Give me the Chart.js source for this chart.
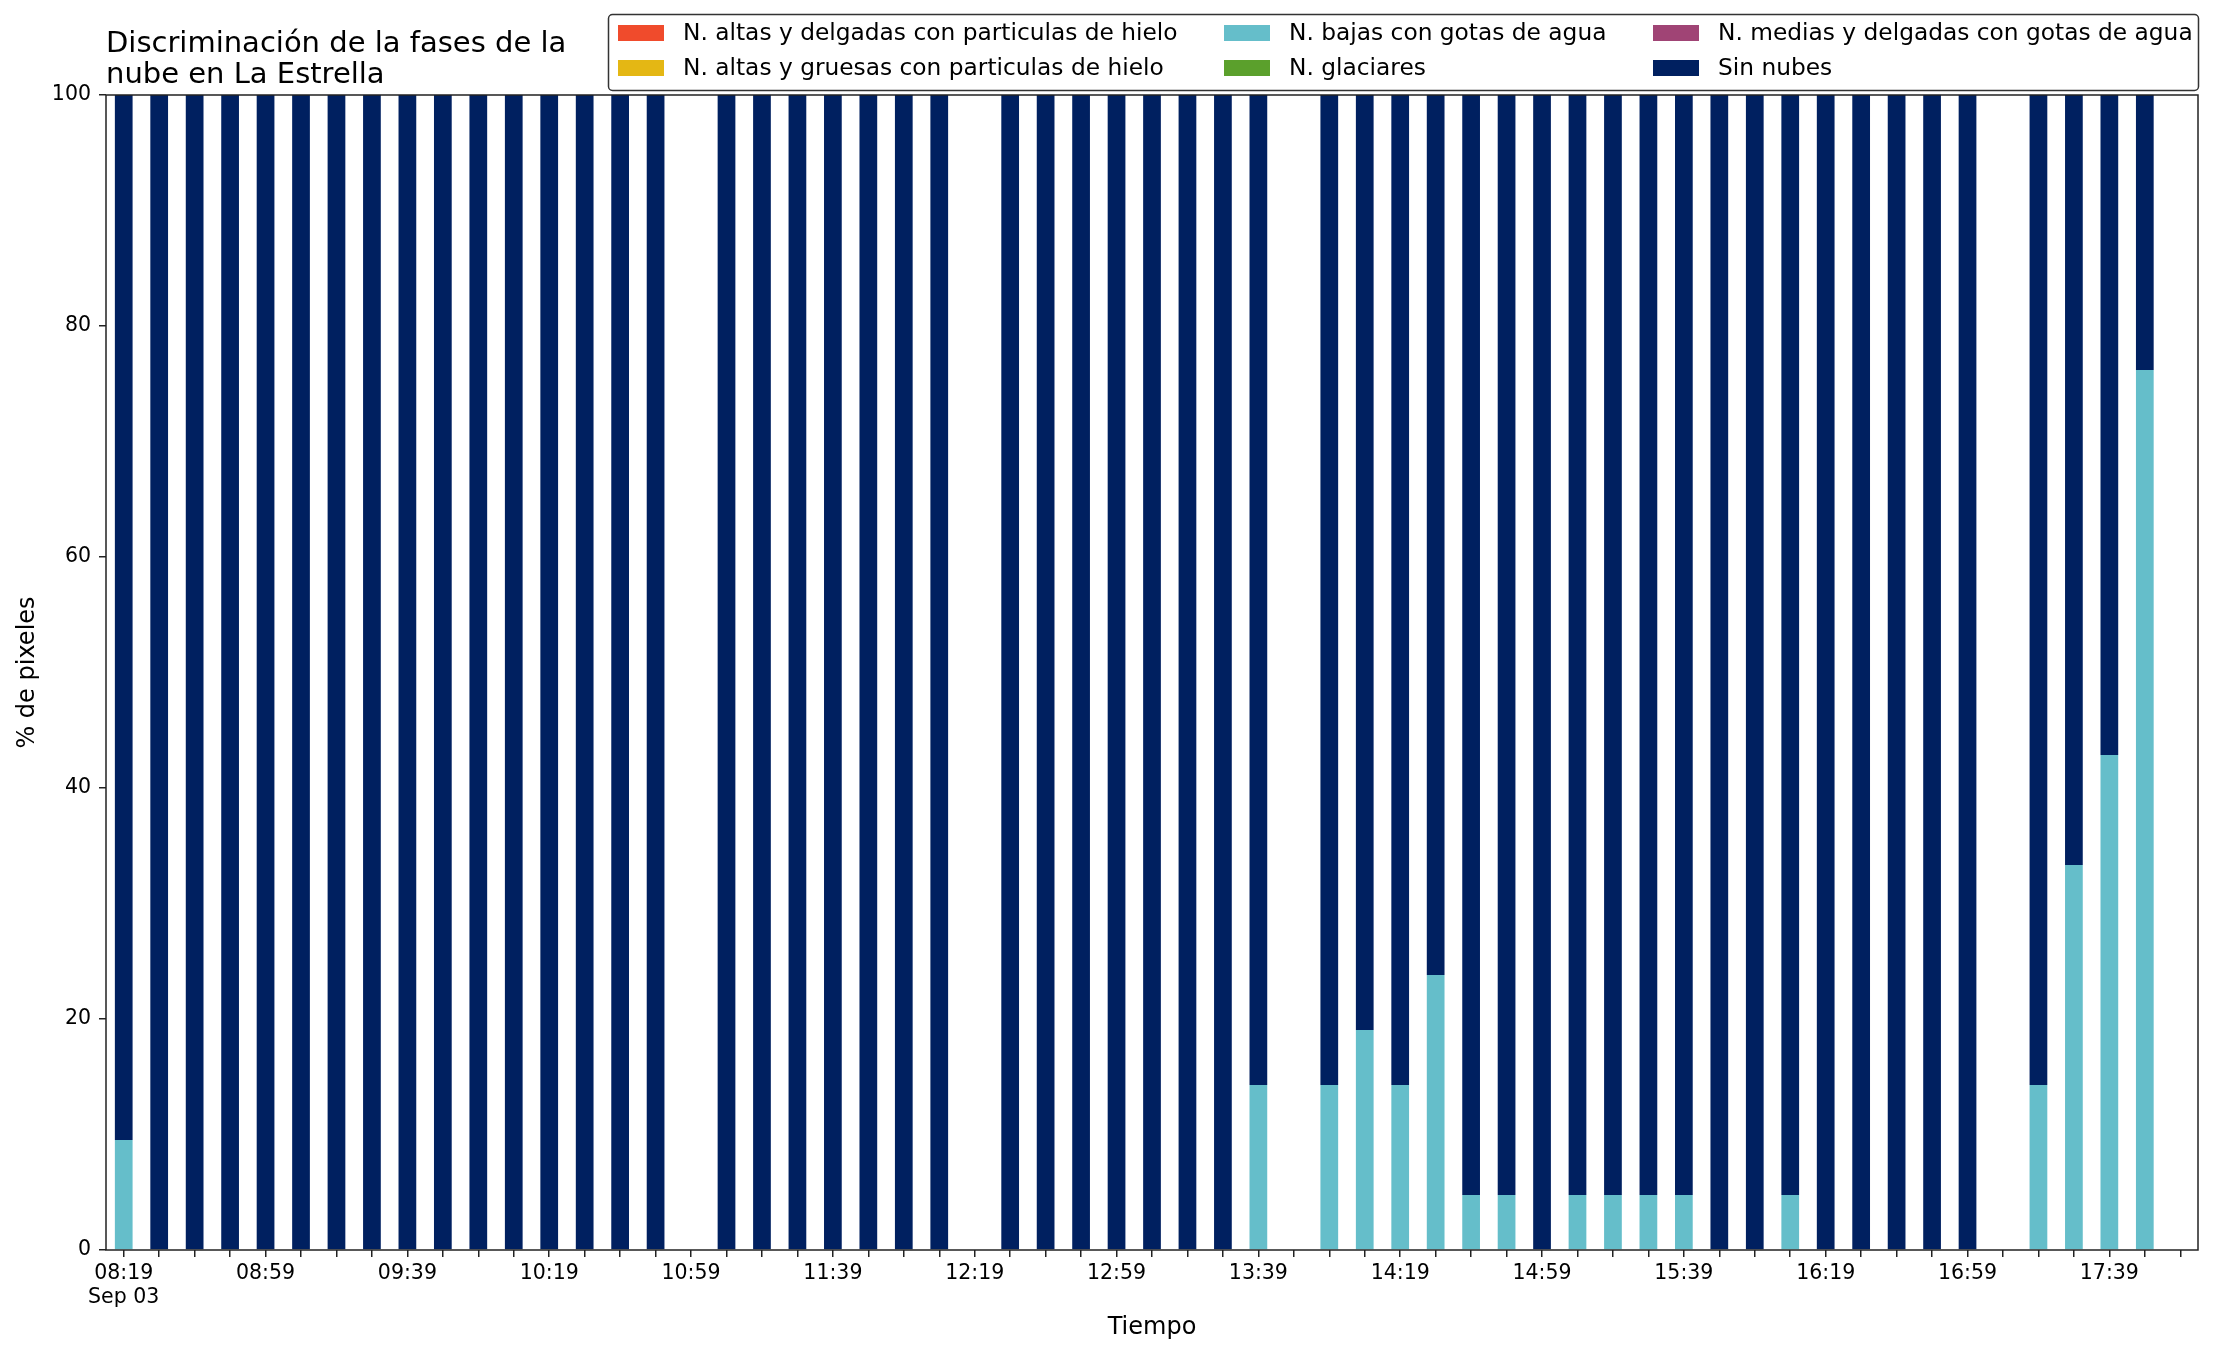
<!DOCTYPE html>
<html>
<head>
<meta charset="utf-8">
<script src="https://cdn.jsdelivr.net/npm/chart.js@4"></script>
<style>
  html, body { margin: 0; padding: 0; background: #fff; overflow: hidden; }
  canvas { display: block; }
</style>
</head>
<body>
<canvas id="fases" width="2216" height="1355" style="width:2216px;height:1355px"></canvas>
<script>
// horas de cada imagen (03 sep)
var horas = ['08:19','08:29','08:39','08:49','08:59','09:09','09:19','09:29','09:39','09:49',
             '09:59','10:09','10:19','10:29','10:39','10:49','10:59','11:09','11:19','11:29',
             '11:39','11:49','11:59','12:09','12:19','12:29','12:39','12:49','12:59','13:09',
             '13:19','13:29','13:39','13:49','13:59','14:09','14:19','14:29','14:39','14:49',
             '14:59','15:09','15:19','15:29','15:39','15:49','15:59','16:09','16:19','16:29',
             '16:39','16:49','16:59','17:09','17:19','17:29','17:39','17:49','17:59'];

// % de pixeles, null = sin imagen
var bajasAgua = [9.52, 0, 0, 0, 0, 0, 0, 0, 0, 0,
                 0, 0, 0, 0, 0, 0, null, 0, 0, 0,
                 0, 0, 0, 0, null, 0, 0, 0, 0, 0,
                 0, 0, 14.29, null, 14.29, 19.05, 14.29, 23.81, 4.76, 4.76,
                 0, 4.76, 4.76, 4.76, 4.76, 0, 0, 4.76, 0, 0,
                 0, 0, 0, null, 14.29, 33.33, 42.86, 76.19, null];

var sinNubes = [90.48, 100, 100, 100, 100, 100, 100, 100, 100, 100,
                100, 100, 100, 100, 100, 100, null, 100, 100, 100,
                100, 100, 100, 100, null, 100, 100, 100, 100, 100,
                100, 100, 85.71, null, 85.71, 80.95, 85.71, 76.19, 95.24, 95.24,
                100, 95.24, 95.24, 95.24, 95.24, 100, 100, 95.24, 100, 100,
                100, 100, 100, null, 85.71, 66.67, 57.14, 23.81, null];

// las demas fases no aparecen en ninguna imagen
var sinPresencia = [0, 0, 0, 0, 0, 0, 0, 0, 0, 0,
                    0, 0, 0, 0, 0, 0, null, 0, 0, 0,
                    0, 0, 0, 0, null, 0, 0, 0, 0, 0,
                    0, 0, 0, null, 0, 0, 0, 0, 0, 0,
                    0, 0, 0, 0, 0, 0, 0, 0, 0, 0,
                    0, 0, 0, null, 0, 0, 0, 0, null];

var fuente = '"DejaVu Sans"';
Chart.defaults.font.family = fuente;
Chart.defaults.color = '#000';

// titulo y leyenda a mano (leyenda en columnas como matplotlib)
var adornos = {
    id: 'adornos',
    afterDraw: function(chart) {
        var ctx = chart.ctx, a = chart.chartArea;
        ctx.save();
        // marco de los ejes
        ctx.strokeStyle = '#222';
        ctx.lineWidth = 1.5;
        ctx.strokeRect(a.left, a.top, a.right - a.left, a.bottom - a.top);

        ctx.fillStyle = '#000';
        ctx.font = '29px ' + fuente;
        ctx.textAlign = 'left';
        ctx.textBaseline = 'alphabetic';
        ctx.fillText('Discriminación de la fases de la', 106, 52);
        ctx.fillText('nube en La Estrella', 106, 83);

        // caja de la leyenda
        ctx.beginPath();
        ctx.roundRect(608.5, 14.5, 1590, 76, 4);
        ctx.fillStyle = '#fff';
        ctx.fill();
        ctx.strokeStyle = '#333';
        ctx.lineWidth = 1.5;
        ctx.stroke();

        var colX = [618, 1224, 1653], filaY = [33, 68];
        ctx.font = '23.3px ' + fuente;
        ctx.textBaseline = 'middle';
        chart.data.datasets.forEach(function(ds, i) {
            var x = colX[Math.floor(i / 2)], y = filaY[i % 2];
            ctx.fillStyle = ds.backgroundColor;
            ctx.fillRect(x, y - 8, 46, 16);
            ctx.fillStyle = '#000';
            ctx.fillText(ds.label, x + 65, y + 1);
        });
        ctx.restore();
    }
};

new Chart(document.getElementById('fases'), {
    type: 'bar',
    data: {
        labels: horas,
        datasets: [
            { label: 'N. altas y delgadas con particulas de hielo', data: sinPresencia, backgroundColor: '#F04B2C' },
            { label: 'N. altas y gruesas con particulas de hielo', data: sinPresencia, backgroundColor: '#E4B714' },
            { label: 'N. bajas con gotas de agua', data: bajasAgua, backgroundColor: '#65BECA' },
            { label: 'N. glaciares', data: sinPresencia, backgroundColor: '#5BA02C' },
            { label: 'N. medias y delgadas con gotas de agua', data: sinPresencia, backgroundColor: '#A04475' },
            { label: 'Sin nubes', data: sinNubes, backgroundColor: '#002060' }
        ]
    },
    options: {
        responsive: false,
        devicePixelRatio: 1,
        animation: false,
        events: [],
        datasets: { bar: { barPercentage: 0.5, categoryPercentage: 1.0 } },
        layout: { padding: { top: 95, right: 18, left: 0, bottom: 0 } },
        plugins: {
            legend: { display: false },
            title: { display: false },
            tooltip: { enabled: false }
        },
        scales: {
            x: {
                stacked: true,
                afterFit: function(s) { s.height = 105; },
                border: { display: false },
                grid: { offset: false, drawOnChartArea: false, tickLength: 7, color: '#222', lineWidth: 1.5 },
                ticks: {
                    autoSkip: false,
                    maxRotation: 0,
                    padding: 4,
                    font: { size: 20.5 },
                    callback: function(val, i) {
                        if (i % 4) return '';
                        var t = this.getLabelForValue(val);
                        return i === 0 ? [t, 'Sep 03'] : t;
                    }
                },
                title: { display: true, text: 'Tiempo', font: { size: 24 }, padding: { top: 0, bottom: 13 } }
            },
            y: {
                stacked: true,
                min: 0,
                max: 100,
                afterFit: function(s) { s.width = 106; },
                border: { display: false },
                grid: { drawOnChartArea: false, tickLength: 7, color: '#222', lineWidth: 1.5 },
                ticks: { stepSize: 20, padding: 8, font: { size: 20.5 } },
                title: { display: true, text: '% de pixeles', font: { size: 24 }, padding: { top: 13, bottom: 0 } }
            }
        }
    },
    plugins: [adornos]
});
</script>
</body>
</html>
